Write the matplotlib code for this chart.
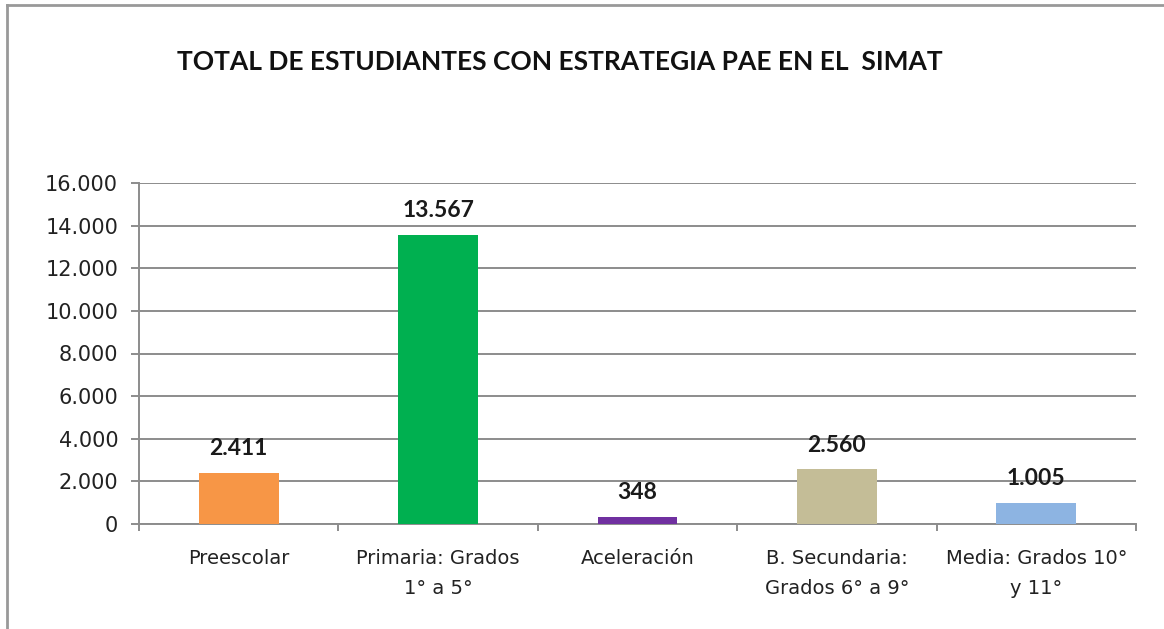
import matplotlib.pyplot as plt
from matplotlib.lines import Line2D
from matplotlib.ticker import FuncFormatter

categorias = ['Preescolar', 'Primaria: Grados\n1° a 5°', 'Aceleración',
              'B. Secundaria:\nGrados 6° a 9°', 'Media: Grados 10°\ny 11°']
estudiantes = [2411, 13567, 348, 2560, 1005]
colores = ['#F79646', '#00B050', '#7030A0', '#C4BD97', '#8DB4E2']
y_ticks = [0, 2000, 4000, 6000, 8000, 10000, 12000, 14000, 16000]


def miles(v, pos=None):
    return f'{int(v):,}'.replace(',', '.')


plt.rcParams['font.family'] = ['Lato', 'DejaVu Sans']
fig = plt.figure(figsize=(11.64, 6.29), dpi=100)
ax = fig.add_axes([139 / 1164, 1 - 524 / 629, 997 / 1164, 341 / 629])

x = range(len(categorias))
ax.bar(x, estudiantes, width=0.4, color=colores, zorder=3)

for xi, v in zip(x, estudiantes):
    ax.annotate(miles(v), (xi, v), xytext=(0, 10), textcoords='offset points',
                ha='center', va='bottom', fontsize=16.5, fontweight='bold',
                color='#1a1a1a', zorder=4)

ax.set_xlim(-0.5, len(categorias) - 0.5)
ax.set_ylim(0, 16000)
ax.set_yticks(y_ticks)
ax.yaxis.set_major_formatter(FuncFormatter(miles))
ax.grid(axis='y', color='#8c8c8c', linewidth=1.4, zorder=0)

ax.set_xticks([i + 0.5 for i in range(-1, len(categorias))], minor=False)
ax.set_xticklabels([])
ax.set_xticks(list(x), minor=True)
ax.set_xticklabels(categorias, minor=True, fontsize=14, color='#222222',
                   linespacing=1.75, family='DejaVu Sans')
ax.tick_params(axis='x', which='major', length=5, width=1.4, color='#8c8c8c')
ax.tick_params(axis='x', which='minor', length=0, pad=18)
ax.tick_params(axis='y', length=6, width=1.4, color='#8c8c8c', pad=9,
               labelsize=15, labelcolor='#222222')
for lbl in ax.get_yticklabels():
    lbl.set_family('DejaVu Sans')

for s in ['top', 'right']:
    ax.spines[s].set_visible(False)
for s in ['left', 'bottom']:
    ax.spines[s].set_color('#8c8c8c')
    ax.spines[s].set_linewidth(1.4)

fig.text(560 / 1164, 1 - 62 / 629, 'TOTAL DE ESTUDIANTES CON ESTRATEGIA PAE EN EL  SIMAT',
         ha='center', va='center', fontsize=19, fontweight='bold', color='#111111')

# marco del grafico
fig.add_artist(Line2D([7 / 1164, 1], [1 - 5 / 629, 1 - 5 / 629],
                      transform=fig.transFigure, color='#999999', linewidth=2))
fig.add_artist(Line2D([7 / 1164, 7 / 1164], [0, 1 - 5 / 629],
                      transform=fig.transFigure, color='#999999', linewidth=2))

fig.savefig('out.png', dpi=100)
